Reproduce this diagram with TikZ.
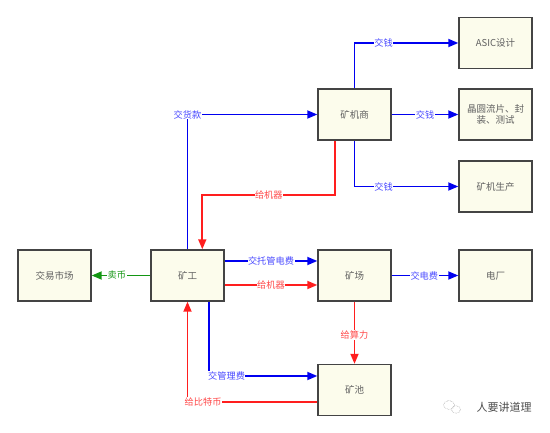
\documentclass[tikz,border=0pt]{standalone}
\usepackage{fontspec}
\newfontfamily\cjk{Noto Sans CJK SC}
\usetikzlibrary{arrows.meta}
\definecolor{boxfill}{HTML}{FCFCEC}
\definecolor{boxline}{HTML}{444444}
\definecolor{lblue}{HTML}{0000F0}
\definecolor{tblue}{HTML}{4848FF}
\definecolor{lred}{HTML}{FF1E1E}
\definecolor{tred}{HTML}{FF4848}
\definecolor{lgreen}{HTML}{139613}
\tikzset{
  box/.style={draw=boxline, line width=1.4pt, fill=boxfill, minimum width=73pt, minimum height=51pt, inner sep=1pt, font=\cjk\fontsize{9.5}{11.5}\selectfont, text=boxline!85, align=center},
  conn/.style={line width=1.7pt, -{Triangle[length=10pt,width=8pt]}},
  bl/.style={conn, draw=lblue},
  rd/.style={conn, draw=lred},
  gr/.style={conn, draw=lgreen},
  lab/.style={fill=white, inner sep=0.5pt, font=\cjk\fontsize{9.2}{10}\selectfont},
  tb/.style={lab, text=tblue},
  tr/.style={lab, text=tred},
  tg/.style={lab, text=lgreen},
}
\begin{document}
\begin{tikzpicture}[x=1pt,y=-1pt]
\useasboundingbox (0,0) rectangle (550,433);
\node[box] (asic) at (495.5,43) {ASIC设计};
\node[box, text width=66pt] (wafer) at (495.5,114.5) {晶圆流片、封\\装、测试};
\node[box] (prod) at (495.5,186.5) {矿机生产};
\node[box] (shang) at (354.5,114.5) {矿机商};
\node[box] (market) at (54.5,275.5) {交易市场};
\node[box] (miner) at (187.5,275.5) {矿工};
\node[box] (farm) at (354.5,275.5) {矿场};
\node[box] (power) at (495.5,275.5) {电厂};
\node[box] (pool) at (354.5,390) {矿池};

\draw[bl] (shang.north) |- node[tb, pos=0.64] {交钱} (asic.west);
\draw[bl] (shang.east) -- node[tb, pos=0.5] {交钱} (wafer.west);
\draw[bl] (shang.south) |- node[tb, pos=0.64] {交钱} (prod.west);
\draw[bl] (miner.north) |- node[tb, pos=0.5] {交货款} (shang.west);
\draw[rd] ([xshift=18pt]shang.south west) -- ++(0,54) -| node[tr, pos=0.25] {给机器} ([xshift=52pt]miner.north west);
\draw[bl] ([yshift=14.5pt]miner.east) -- node[tb, pos=0.5] {交托管电费} ([yshift=14.5pt]farm.west);
\draw[rd] ([yshift=-9.5pt]miner.east) -- node[tr, pos=0.5] {给机器} ([yshift=-9.5pt]farm.west);
\draw[bl] (farm.east) -- node[tb, pos=0.49] {交电费} (power.west);
\draw[rd] (farm.south) -- node[tr, pos=0.54] {给算力} (pool.north);
\draw[bl] ([xshift=59pt]miner.south west) |- node[tb, pos=0.58] {交管理费} ([yshift=14pt]pool.west);
\draw[rd] ([yshift=-12pt]pool.west) -| node[tr, pos=0.44] {给比特币} (miner.south);
\draw[gr] (miner.west) -- node[tg, pos=0.57] {卖币} (market.east);

\node[font=\cjk\fontsize{11}{12}\selectfont, text=black!70] (wm) at (504,407) {人要讲道理};
\draw[black!40, line width=0.5pt, densely dotted] (449,405) ellipse (5.5pt and 4.5pt);
\draw[black!40, line width=0.5pt, densely dotted] (456,409.5) ellipse (4.5pt and 3.8pt);
\end{tikzpicture}
\end{document}
